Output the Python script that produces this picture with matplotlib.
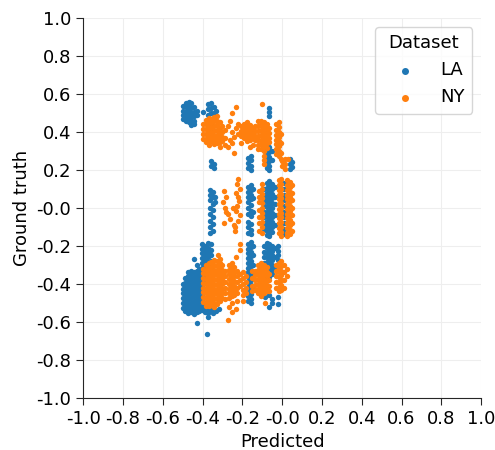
import matplotlib
matplotlib.use("Agg")
import matplotlib.pyplot as plt

# Each entry is (predicted value, [ground truth values seen at that predicted value])
la_upper = [
    (-0.497, [0.535, 0.51, 0.49, 0.47]),
    (-0.484, [0.555, 0.53, 0.505, 0.48, 0.46]),
    (-0.470, [0.56, 0.54, 0.515, 0.49, 0.47, 0.45]),
    (-0.456, [0.55, 0.525, 0.50, 0.48, 0.455, 0.435]),
    (-0.442, [0.53, 0.505, 0.485, 0.46, 0.44]),
    (-0.428, [0.51, 0.49]),
    (-0.400, [0.505]),
    (-0.372, [0.545, 0.52, 0.49, 0.465]),
    (-0.358, [0.55, 0.525, 0.50, 0.47, 0.445, 0.40, 0.245, 0.22]),
    (-0.344, [0.53, 0.50, 0.475, 0.23, 0.21]),
    (-0.330, [0.51, 0.485]),
    (-0.172, [0.265, 0.235, 0.21]),
    (-0.158, [0.275, 0.25, 0.22, 0.20]),
    (-0.078, [0.31, 0.285, 0.26, 0.235, 0.21]),
    (-0.064, [0.525, 0.505, 0.485, 0.32, 0.295, 0.27, 0.245, 0.22, 0.20]),
    (-0.050, [0.30, 0.25]),
    (0.040, [0.255, 0.23, 0.205]),
    (0.052, [0.24, 0.215]),
]

la_middle = [
    (-0.365, [0.095, 0.07, 0.04, 0.0, -0.03, -0.07, -0.10, -0.13]),
    (-0.350, [0.085, 0.055, 0.02, -0.01, -0.05, -0.085, -0.12]),
    (-0.335, [0.06, 0.03]),
    (-0.172, [0.11, 0.085, 0.06, 0.03, 0.0, -0.03, -0.075, -0.10, -0.13]),
    (-0.158, [0.12, 0.095, 0.07, 0.045, 0.015, -0.015, -0.045, -0.085, -0.115, -0.14]),
    (-0.145, [0.10, 0.05, -0.02]),
    (-0.092, [0.10, 0.07, 0.04, 0.01, -0.02, -0.05, -0.08, -0.11]),
    (-0.078, [0.13, 0.105, 0.08, 0.055, 0.03, 0.005, -0.02, -0.045, -0.07, -0.095, -0.12, -0.145]),
    (-0.064, [0.14, 0.115, 0.09, 0.065, 0.04, 0.015, -0.01, -0.035, -0.06, -0.085, -0.11, -0.135, -0.15]),
    (-0.050, [0.125, 0.10, 0.075, 0.05, 0.025, 0.0, -0.025, -0.05, -0.075, -0.10, -0.125]),
    (-0.036, [0.11, 0.06, 0.02, -0.04, -0.09]),
    (0.010, [0.13, 0.10, 0.07, 0.04, 0.01, -0.02, -0.05, -0.08, -0.11, -0.14]),
]

la_lower = [
    (-0.500, [-0.40, -0.425, -0.45, -0.475, -0.50, -0.525]),
    (-0.486, [-0.37, -0.395, -0.42, -0.445, -0.47, -0.495, -0.52, -0.545]),
    (-0.472, [-0.34, -0.36, -0.385, -0.41, -0.435, -0.46, -0.485, -0.51, -0.535, -0.555]),
    (-0.458, [-0.33, -0.35, -0.375, -0.40, -0.425, -0.45, -0.475, -0.50, -0.525, -0.55]),
    (-0.444, [-0.27, -0.34, -0.365, -0.39, -0.415, -0.44, -0.465, -0.49, -0.515, -0.54, -0.56]),
    (-0.430, [-0.30, -0.33, -0.355, -0.38, -0.405, -0.43, -0.455, -0.48, -0.505, -0.53, -0.55, -0.605]),
    (-0.416, [-0.32, -0.345, -0.37, -0.395, -0.42, -0.445, -0.47, -0.495, -0.52, -0.545]),
    (-0.402, [-0.19, -0.215, -0.24, -0.265, -0.29, -0.315, -0.34, -0.365, -0.39, -0.415,
              -0.44, -0.465, -0.49, -0.515, -0.54]),
    (-0.388, [-0.20, -0.225, -0.25, -0.275, -0.30, -0.325, -0.35, -0.375, -0.50, -0.525, -0.55]),
    (-0.380, [-0.665]),
    (-0.374, [-0.185, -0.21, -0.235, -0.26, -0.285, -0.31, -0.335, -0.53, -0.555, -0.575]),
    (-0.360, [-0.19, -0.22, -0.25, -0.28, -0.31, -0.54]),
    (-0.345, [-0.54, -0.555]),
    (-0.330, [-0.545]),
    (-0.315, [-0.53]),
    (-0.172, [-0.19, -0.215, -0.24, -0.265, -0.29, -0.315, -0.34, -0.365, -0.39, -0.415,
              -0.44, -0.465, -0.49]),
    (-0.158, [-0.18, -0.205, -0.23, -0.255, -0.28, -0.305, -0.33, -0.355, -0.38, -0.405,
              -0.43, -0.455, -0.48, -0.50]),
    (-0.145, [-0.20, -0.25, -0.30, -0.35, -0.42]),
    (-0.092, [-0.20, -0.23, -0.26, -0.29]),
    (-0.085, [-0.47]),
    (-0.078, [-0.185, -0.21, -0.235, -0.26, -0.285, -0.31, -0.335, -0.36]),
    (-0.064, [-0.19, -0.215, -0.24, -0.265, -0.29, -0.315, -0.34, -0.365, -0.46, -0.52]),
    (-0.050, [-0.20, -0.225, -0.25, -0.275, -0.30, -0.325, -0.35, -0.48, -0.50]),
    (-0.036, [-0.21, -0.26, -0.31]),
    (-0.020, [-0.20, -0.225, -0.25, -0.275, -0.47, -0.505]),
]

ny_upper = [
    (-0.398, [0.44, 0.415, 0.39, 0.365]),
    (-0.384, [0.465, 0.44, 0.415, 0.39, 0.365, 0.345]),
    (-0.370, [0.475, 0.45, 0.425, 0.40, 0.375, 0.355, 0.33]),
    (-0.356, [0.47, 0.445, 0.42, 0.395, 0.37, 0.35]),
    (-0.342, [0.48, 0.455, 0.43, 0.405, 0.38, 0.36, 0.335]),
    (-0.328, [0.485, 0.46, 0.435, 0.41, 0.385, 0.365, 0.34]),
    (-0.314, [0.45, 0.42, 0.395, 0.37, 0.345, 0.32]),
    (-0.300, [0.43, 0.40, 0.375, 0.35]),
    (-0.286, [0.41, 0.37, 0.33]),
    (-0.270, [0.43, 0.32]),
    (-0.262, [0.46, 0.36]),
    (-0.250, [0.50, 0.40, 0.34]),
    (-0.240, [0.375, 0.29]),
    (-0.232, [0.53, 0.42]),
    (-0.222, [0.44, 0.39]),
    (-0.205, [0.43, 0.405, 0.38, 0.34]),
    (-0.190, [0.44, 0.415, 0.39, 0.37]),
    (-0.176, [0.45, 0.425, 0.40, 0.375, 0.35]),
    (-0.162, [0.435, 0.41, 0.385, 0.36, 0.32]),
    (-0.148, [0.42, 0.395, 0.37, 0.33]),
    (-0.134, [0.43, 0.405, 0.38, 0.355]),
    (-0.120, [0.455, 0.43, 0.405, 0.38, 0.355, 0.33, 0.31]),
    (-0.106, [0.46, 0.435, 0.41, 0.385, 0.36, 0.335, 0.31]),
    (-0.100, [0.545]),
    (-0.092, [0.45, 0.425, 0.40, 0.375, 0.35, 0.325, 0.30, 0.275, 0.25, 0.23]),
    (-0.078, [0.44, 0.415, 0.39, 0.365, 0.34, 0.315]),
    (-0.064, [0.42, 0.395, 0.37, 0.345]),
    (-0.032, [0.44, 0.41, 0.385, 0.36, 0.335, 0.31, 0.285]),
    (-0.018, [0.45, 0.425, 0.40, 0.375, 0.35, 0.325, 0.30, 0.275]),
    (-0.004, [0.39, 0.34, 0.29, 0.26]),
    (0.000, [0.245, 0.22]),
    (0.015, [0.255, 0.23, 0.205]),
    (0.030, [0.26]),
]

ny_middle = [
    (-0.295, [0.03]),
    (-0.290, [0.09, -0.08]),
    (-0.285, [0.0]),
    (-0.280, [0.06, -0.02]),
    (-0.270, [-0.03]),
    (-0.260, [-0.06]),
    (-0.245, [0.0]),
    (-0.240, [-0.09]),
    (-0.235, [-0.10, -0.12]),
    (-0.230, [0.08, -0.015]),
    (-0.225, [0.125, 0.01]),
    (-0.220, [0.15, 0.06, -0.07]),
    (-0.215, [0.035]),
    (-0.210, [0.10, -0.04]),
    (-0.115, [0.09, 0.06, 0.03, -0.01, -0.05, -0.08, -0.12]),
    (-0.100, [0.125, 0.10, 0.075, 0.05, 0.025, 0.0, -0.025, -0.05, -0.075, -0.10, -0.13]),
    (-0.018, [0.145, 0.12, 0.095, 0.07, 0.045, 0.02, -0.005, -0.03, -0.055, -0.08, -0.105, -0.13]),
    (-0.004, [0.15, 0.125, 0.10, 0.075, 0.05, 0.025, 0.0, -0.025, -0.05, -0.075, -0.10, -0.125, -0.15]),
    (0.024, [0.145, 0.12, 0.095, 0.07, 0.045, 0.02, -0.005, -0.03, -0.055, -0.08, -0.105, -0.13, -0.15]),
    (0.038, [0.135, 0.11, 0.085, 0.06, 0.035, 0.01, -0.015, -0.04, -0.065, -0.09, -0.115, -0.14]),
    (0.050, [0.12, 0.08, 0.04, 0.0, -0.04, -0.08, -0.12]),
]

ny_lower = [
    (-0.398, [-0.32, -0.345, -0.37, -0.395, -0.42, -0.445, -0.47, -0.495]),
    (-0.384, [-0.30, -0.325, -0.35, -0.375, -0.40, -0.425, -0.45, -0.475, -0.50, -0.515]),
    (-0.370, [-0.29, -0.315, -0.34, -0.365, -0.39, -0.415, -0.44, -0.465, -0.49, -0.515]),
    (-0.356, [-0.285, -0.31, -0.335, -0.36, -0.385, -0.41, -0.435, -0.46, -0.485, -0.51]),
    (-0.342, [-0.275, -0.30, -0.325, -0.35, -0.375, -0.40, -0.425, -0.45, -0.475, -0.50, -0.52]),
    (-0.328, [-0.28, -0.305, -0.33, -0.355, -0.38, -0.405, -0.43, -0.455, -0.48, -0.505]),
    (-0.320, [-0.25]),
    (-0.314, [-0.29, -0.315, -0.34, -0.365, -0.39, -0.415, -0.44, -0.465, -0.49]),
    (-0.310, [-0.27]),
    (-0.300, [-0.30, -0.325, -0.35, -0.375, -0.40, -0.425, -0.45, -0.475]),
    (-0.286, [-0.33, -0.36, -0.39, -0.42, -0.45, -0.48]),
    (-0.270, [-0.59]),
    (-0.268, [-0.30, -0.325, -0.35, -0.375, -0.40, -0.425, -0.45, -0.475, -0.52]),
    (-0.254, [-0.29, -0.315, -0.34, -0.365, -0.39, -0.415, -0.44, -0.465, -0.50, -0.55]),
    (-0.240, [-0.31, -0.335, -0.36, -0.385, -0.41, -0.435, -0.46]),
    (-0.230, [-0.26, -0.53]),
    (-0.226, [-0.33, -0.36, -0.39, -0.42, -0.45, -0.49]),
    (-0.212, [-0.19, -0.22, -0.35, -0.38, -0.41]),
    (-0.198, [-0.34, -0.37, -0.40, -0.43, -0.46, -0.49]),
    (-0.184, [-0.36, -0.39, -0.42, -0.45]),
    (-0.150, [-0.33, -0.37, -0.41, -0.44]),
    (-0.134, [-0.33, -0.355, -0.38, -0.405, -0.43]),
    (-0.120, [-0.30, -0.325, -0.35, -0.375, -0.40, -0.425, -0.45]),
    (-0.106, [-0.29, -0.315, -0.34, -0.365, -0.39, -0.415, -0.44, -0.465]),
    (-0.092, [-0.30, -0.325, -0.35, -0.375, -0.40, -0.425, -0.45]),
    (-0.085, [-0.50]),
    (-0.078, [-0.31, -0.335, -0.36, -0.385, -0.41, -0.435]),
    (-0.064, [-0.35, -0.38, -0.41, -0.44]),
    (-0.032, [-0.30, -0.33, -0.36, -0.39, -0.42]),
    (-0.018, [-0.29, -0.315, -0.34, -0.365, -0.39, -0.415, -0.44]),
    (-0.004, [-0.28, -0.305, -0.33, -0.355, -0.38, -0.405, -0.43]),
    (0.010, [-0.30, -0.34, -0.38, -0.42]),
    (0.024, [-0.32, -0.36]),
]

tick_values = [-1.0, -0.8, -0.6, -0.4, -0.2, 0.0, 0.2, 0.4, 0.6, 0.8, 1.0]
tick_labels = ["-1.0", "-0.8", "-0.6", "-0.4", "-0.2", "-0.0", "0.2", "0.4", "0.6", "0.8", "1.0"]


def flatten(*groups):
    xs, ys = [], []
    for group in groups:
        for x, col in group:
            for y in col:
                xs.append(x)
                ys.append(y)
    return xs, ys


la_x, la_y = flatten(la_upper, la_middle, la_lower)
ny_x, ny_y = flatten(ny_upper, ny_middle, ny_lower)

plt.rcParams["font.size"] = 13

fig = plt.figure(figsize=(4.95, 4.5), dpi=100)
ax = fig.add_axes([0.168, 0.116, 0.804, 0.844])

ax.scatter(la_x, la_y, s=15, c="#1f77b4", linewidths=0, label="LA")
ax.scatter(ny_x, ny_y, s=15, c="#ff7f0e", linewidths=0, label="NY")

ax.set_xlim(-1, 1)
ax.set_ylim(-1, 1)
ax.set_xticks(tick_values)
ax.set_xticklabels(tick_labels)
ax.set_yticks(tick_values)
ax.set_yticklabels(tick_labels)
ax.grid(color="#eeeeee", linewidth=0.8)
ax.set_axisbelow(True)

for side in ["top", "right"]:
    ax.spines[side].set_visible(False)
for side in ["left", "bottom"]:
    ax.spines[side].set_color("#262626")
ax.tick_params(length=5, color="#262626")

ax.set_xlabel("Predicted")
ax.set_ylabel("Ground truth")

ax.legend(title="Dataset", loc="upper right", markerscale=1.3,
          handlelength=2.5, handletextpad=0.7, title_fontsize=13)

fig.savefig("out.png", dpi=100)
